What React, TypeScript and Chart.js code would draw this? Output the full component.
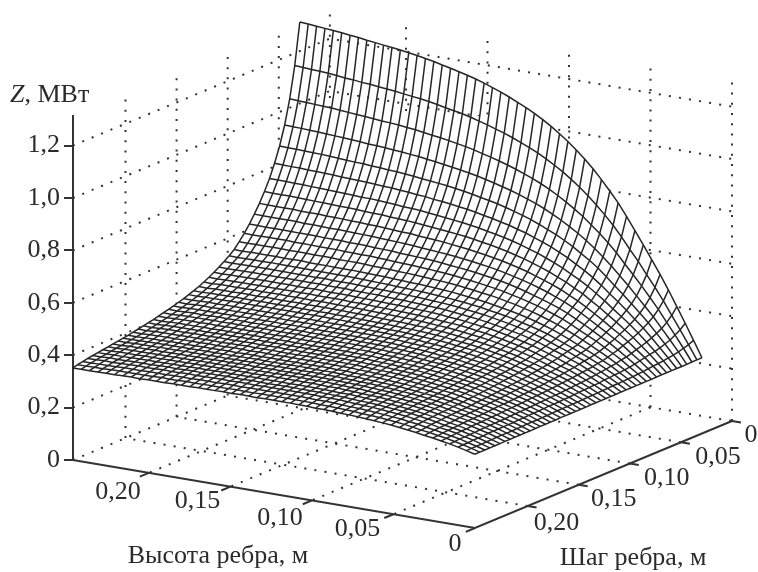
import { useEffect, useRef } from "react";
import { Chart, registerables } from "chart.js";

Chart.register(...registerables);

const heightStart = 0;
const heightCell = 0.00514;
const stepStart = 0.0294;
const stepCell = 0.00494;
const heightMax = 0.2467;
const stepMax = 0.2515;
const wallTop = 1.31;

const heightTicks = [0, 0.05, 0.1, 0.15, 0.2];
const stepTicks = [0, 0.05, 0.1, 0.15, 0.2];
const zTicks = [0, 0.2, 0.4, 0.6, 0.8, 1.0, 1.2];

// Z, thousandths of a MW: one row per fin height, one column per fin pitch
const surfaceZ = [
[289,289,289,288,288,288,288,288,288,288,287,287,287,287,287,287,287,286,286,286,286,286,286,285,285,285,285,285,285,284,284,284,284,284,283,283,283,283,283,283,282,282,282,282,282,282],
[350,342,336,330,326,323,320,318,316,314,311,310,308,307,306,305,305,303,303,302,301,301,300,299,299,298,298,298,297,296,296,295,295,295,294,294,293,293,293,293,292,292,291,291,291,290],
[410,393,381,370,363,356,351,347,343,339,334,331,328,326,325,323,322,319,318,317,316,315,314,312,312,311,310,310,309,308,307,307,306,306,304,304,304,303,303,303,301,301,301,299,299,298],
[468,443,424,409,398,389,381,374,368,362,356,353,348,345,342,339,337,334,332,330,329,327,326,324,323,322,321,320,319,318,317,316,316,315,313,313,312,312,311,311,309,309,308,308,306,305],
[526,493,468,448,433,421,410,401,393,386,378,372,366,361,358,354,351,349,346,344,342,340,338,336,335,333,332,331,330,328,327,326,325,324,322,322,321,320,320,319,317,317,316,314,313,311],
[580,539,508,483,465,449,437,425,416,406,398,390,383,377,373,370,366,362,359,356,353,351,349,346,344,343,341,340,338,336,335,334,333,332,330,329,328,327,327,326,324,323,322,320,318,317],
[631,582,547,517,495,478,462,449,436,426,416,408,399,392,387,382,378,373,369,366,363,360,358,356,354,352,350,349,347,345,343,342,341,339,337,336,335,334,333,331,329,328,327,326,324,321],
[682,627,584,551,525,505,486,471,458,445,434,424,415,406,400,396,391,385,381,377,374,371,368,365,362,360,358,356,354,352,350,349,347,346,343,342,341,340,339,338,336,335,334,331,328,327],
[731,667,620,583,553,530,511,494,478,464,452,440,430,420,413,407,402,397,392,388,384,381,378,374,371,369,367,364,362,360,358,356,354,353,350,349,348,346,345,344,342,341,339,337,334,331],
[780,710,657,615,582,557,534,514,498,483,468,456,444,434,426,419,413,408,403,398,393,390,386,382,380,377,374,372,369,367,365,363,361,359,356,355,354,352,351,349,347,346,344,341,339,335],
[826,749,690,644,610,581,556,535,516,500,485,471,458,447,438,431,424,418,412,407,402,398,395,390,387,384,381,379,376,373,371,369,367,365,362,361,359,357,356,354,352,351,349,346,343,339],
[866,783,720,671,633,602,575,552,532,515,498,483,469,457,448,440,433,426,420,415,409,405,401,397,393,390,387,384,381,378,376,374,371,369,366,365,363,361,360,358,356,354,352,349,346,342],
[904,815,747,696,654,621,592,569,548,528,510,494,480,467,457,449,442,434,427,421,416,411,407,402,399,395,392,389,386,383,380,378,375,373,370,368,367,365,363,361,359,357,355,352,349,345],
[940,845,774,718,675,640,609,583,561,541,521,505,490,476,465,457,448,441,434,428,422,417,413,408,404,400,397,394,391,387,384,382,379,377,374,372,370,368,366,364,362,360,358,355,351,347],
[972,872,797,738,693,656,624,597,573,552,531,514,498,484,473,464,455,448,440,434,428,422,418,413,409,405,401,398,395,391,388,385,383,380,377,375,373,371,369,367,365,363,361,357,353,349],
[1001,897,818,757,710,671,637,609,584,562,541,523,507,491,480,470,461,454,446,439,433,427,422,417,413,409,405,402,398,394,392,389,386,383,380,378,376,374,372,370,367,365,363,359,356,351],
[1028,920,838,774,724,684,650,620,595,571,550,530,513,497,486,476,467,458,450,443,436,430,425,420,416,411,408,404,401,398,395,392,389,386,382,380,378,375,373,371,369,366,364,360,357,352],
[1052,940,856,790,738,696,660,631,604,579,558,538,520,503,491,482,472,463,455,447,440,434,429,424,419,415,411,407,404,400,397,394,391,388,384,382,380,378,375,373,371,368,366,362,358,354],
[1075,959,872,804,751,708,671,639,612,587,565,544,526,509,497,486,476,467,459,451,444,438,433,427,423,418,414,410,406,402,399,396,393,390,387,384,382,380,378,375,373,370,368,364,360,355],
[1095,976,886,816,762,717,680,648,620,594,571,549,530,513,501,490,480,471,462,454,447,441,435,429,425,420,416,412,408,404,401,398,394,391,388,385,383,381,378,376,373,371,369,365,360,355],
[1114,991,899,828,772,727,688,655,626,600,576,554,535,517,505,494,483,473,464,456,449,443,437,432,427,422,418,414,410,406,403,400,396,393,390,387,385,382,380,378,374,372,369,365,362,357],
[1130,1005,911,838,781,734,695,662,632,605,581,559,539,521,508,497,487,477,467,459,452,445,439,434,429,424,420,415,411,407,404,400,397,394,390,388,385,383,381,378,375,373,370,366,362,357],
[1145,1018,922,847,790,742,701,667,637,610,585,563,543,525,511,500,489,479,469,461,453,447,441,436,431,426,422,417,413,409,406,402,399,396,392,389,387,384,382,379,376,373,371,367,363,358],
[1160,1030,932,856,797,748,708,673,642,614,589,567,546,528,514,502,491,481,471,463,455,448,442,437,432,427,423,418,414,410,406,403,399,396,392,390,387,385,382,380,376,373,371,367,363,358],
[1173,1040,941,864,803,755,713,678,646,618,592,570,549,530,516,504,493,482,473,464,456,449,443,438,433,428,423,419,415,410,407,403,400,396,393,390,388,385,382,380,376,374,371,367,363,358],
[1185,1051,949,872,810,761,718,682,650,621,596,572,551,532,518,506,494,484,474,465,457,450,444,439,434,428,424,420,415,411,407,404,400,397,393,390,388,385,383,380,376,374,371,367,363,358],
[1197,1060,958,878,816,765,722,686,654,624,599,575,553,534,520,507,496,485,475,466,458,451,445,440,434,429,425,420,416,411,408,404,400,397,393,391,388,385,383,380,376,373,371,367,363,357],
[1207,1069,965,884,821,770,726,689,657,627,601,577,555,535,521,509,497,486,476,467,459,452,446,440,435,429,425,420,416,411,408,404,401,397,393,391,388,385,383,380,376,373,371,367,362,358],
[1216,1077,971,889,826,774,730,692,659,629,603,579,557,537,522,510,498,487,477,468,460,452,446,441,435,430,425,421,416,411,408,404,401,397,393,391,388,385,382,380,376,373,370,367,362,358],
[1224,1083,977,894,830,777,733,695,661,632,605,580,558,538,524,511,500,488,478,469,461,454,447,441,435,430,425,421,416,411,408,404,400,397,393,390,388,385,382,379,377,374,371,366,363,357],
[1232,1089,983,899,834,782,737,698,665,634,606,582,560,540,525,512,500,489,479,470,461,454,448,441,436,430,425,421,416,411,408,404,400,397,393,390,387,385,382,379,376,373,371,367,362,358],
[1239,1096,987,903,837,784,739,701,666,636,609,584,561,541,526,513,501,490,479,470,462,454,448,441,436,430,425,421,416,411,408,404,400,396,393,390,387,384,381,379,376,373,370,367,362,357],
[1247,1102,992,908,841,788,741,703,668,638,610,585,562,542,527,514,501,491,481,471,463,455,449,442,437,431,426,422,417,412,408,405,401,397,393,391,388,385,382,379,376,374,371,366,362,357],
[1253,1107,997,911,844,790,744,704,670,639,611,587,564,543,528,515,503,491,481,471,463,455,449,442,437,431,426,421,417,412,408,404,401,397,393,390,387,385,382,379,376,373,370,366,362,357],
[1259,1111,1000,915,847,793,746,707,672,641,613,587,565,544,529,515,503,491,481,472,463,455,449,442,436,431,426,421,416,412,408,404,400,396,393,390,387,384,381,378,376,373,370,366,361,356],
[1264,1115,1004,917,849,795,748,708,673,642,614,588,565,544,529,515,503,492,481,471,463,455,449,442,436,430,426,421,416,412,408,405,401,397,392,389,386,384,381,378,375,372,369,365,362,356],
[1269,1120,1007,920,852,797,750,709,675,643,614,588,565,544,529,517,504,493,482,472,464,456,449,443,437,431,426,422,417,412,408,404,400,397,393,390,387,384,381,378,375,373,370,365,361,356],
[1273,1123,1009,922,853,799,750,711,675,644,616,590,567,545,530,516,504,492,482,472,463,456,449,442,436,431,426,421,416,411,408,404,400,396,392,389,386,383,381,378,375,372,369,365,360,355],
[1277,1126,1012,924,856,800,752,712,677,645,616,590,567,545,530,516,504,492,482,472,463,455,449,442,436,430,425,421,416,411,407,403,399,395,392,389,386,383,380,377,374,371,368,364,361,355],
[1281,1130,1015,927,857,802,753,713,678,645,616,590,567,545,530,516,504,493,482,473,464,456,449,442,437,431,426,421,416,411,408,404,400,396,392,389,386,383,380,377,374,372,369,364,360,355],
[1285,1132,1017,929,859,803,755,714,678,646,618,591,568,547,531,517,505,493,482,472,464,456,449,442,436,430,426,421,416,411,407,403,399,395,391,388,386,383,380,377,374,371,368,364,359,354],
[1290,1136,1020,931,861,805,756,715,680,647,618,592,568,547,531,517,504,493,482,472,463,455,449,442,436,430,425,420,415,410,406,403,399,395,391,388,385,382,379,376,373,370,367,363,359,355],
[1293,1138,1023,933,863,806,757,716,680,647,618,591,568,546,531,517,504,493,482,473,464,456,449,442,436,430,426,421,416,411,407,403,399,395,391,388,385,382,379,376,373,370,368,363,359,354],
[1297,1142,1026,935,865,808,758,717,680,649,619,593,569,547,532,518,505,493,482,472,464,456,449,442,436,430,425,420,415,410,406,402,398,394,391,388,385,382,379,376,373,370,367,363,359,353],
[1300,1145,1027,937,866,808,760,718,682,649,619,593,569,547,531,517,505,493,482,472,463,455,448,441,435,429,424,420,415,410,406,402,398,394,390,387,384,381,378,375,372,369,366,362,358,353],
[1303,1147,1029,938,867,810,760,719,682,649,619,593,569,547,531,517,504,492,481,472,463,455,448,442,436,430,425,420,415,410,406,402,398,394,390,387,384,381,378,375,371,368,365,361,357,352],
[1306,1149,1031,940,868,810,761,719,682,649,619,592,569,547,531,517,504,493,482,472,463,455,448,441,435,429,424,419,414,409,405,401,397,393,389,386,384,381,378,375,372,369,366,361,357,352],
[1309,1151,1032,941,869,811,762,719,682,649,620,592,568,546,530,516,503,491,480,470,461,453,446,439,433,427,422,417,412,407,403,399,395,391,388,385,382,379,376,373,370,367,364,360,356,352],
[1311,1153,1034,942,870,812,762,720,683,650,620,593,569,547,531,517,504,492,481,471,462,454,447,440,434,428,423,418,413,408,404,400,396,392,388,385,382,379,376,373,370,367,364,360,356,351],
];

const heights = surfaceZ.map((_, i) => heightStart + heightCell * i);
const steps = surfaceZ[0].map((_, j) => stepStart + stepCell * j);

const ink = "#2b2b2b";
const serif = '"Liberation Serif", "Times New Roman", serif';

// Oblique view: screen x and the z-axis value at the same screen height
const pt = (h: number, s: number, z: number) => ({
  x: 732 - 1630 * h - 1022 * s,
  y: z + (39 + 275.6 * h - 425.4 * s) / 262,
});

const line = (points: { x: number; y: number }[], extra: object = {}) => ({
  type: "scatter" as const,
  data: points,
  showLine: true,
  pointRadius: 0,
  tension: 0,
  clip: false,
  fill: false,
  borderColor: "#262626",
  borderWidth: 1.5,
  ...extra,
});

const dotted = { borderDash: [2, 8.2], borderWidth: 2, borderColor: "#333", order: 5 };

function buildDatasets() {
  const sets: object[] = [];
  for (const z of zTicks) {
    sets.push(line([pt(heightMax, stepMax, z), pt(heightMax, 0, z), pt(0, 0, z)], dotted));
  }
  for (const s of stepTicks) {
    sets.push(line([pt(heightMax, s, 0), pt(heightMax, s, wallTop)], dotted));
    if (s > 0) sets.push(line([pt(0, s, 0), pt(heightMax, s, 0)], dotted));
  }
  for (const h of heightTicks) {
    sets.push(line([pt(h, 0, 0), pt(h, 0, wallTop)], dotted));
    if (h > 0) sets.push(line([pt(h, 0, 0), pt(h, stepMax, 0)], dotted));
  }

  const n = heights.length - 1;
  const m = steps.length - 1;
  const at = (i: number, j: number) => pt(heights[i], steps[j], surfaceZ[i][j] / 1000);
  const outline = [
    ...steps.map((_, j) => at(n, j)),
    ...heights.map((_, i) => at(n - i, m)),
    ...steps.map((_, j) => at(0, m - j)),
    ...heights.map((_, i) => at(i, 0)),
  ];
  sets.push(line(outline, { order: 4, fill: "shape", backgroundColor: "#fff", borderWidth: 0 }));

  heights.forEach((_, i) => sets.push(line(steps.map((__, j) => at(i, j)), { order: 3 })));
  steps.forEach((_, j) => sets.push(line(heights.map((__, i) => at(i, j)), { order: 3 })));

  const axis = { borderColor: "#333", borderWidth: 2, order: 1 };
  sets.push(line([pt(heightMax, stepMax, 0), pt(0, stepMax, 0), pt(0, 0, 0)], axis));
  for (const h of heightTicks) sets.push(line([pt(h, stepMax, 0), pt(h, stepMax + 0.009, 0)], axis));
  for (const s of stepTicks) sets.push(line([pt(0, s, 0), pt(-0.0055, s, 0)], axis));
  return sets;
}

const comma = (v: number) => (v === 0 ? "0" : v.toFixed(2).replace(".", ","));
const heightLabelShift = [[-20, 16], [-36, 15], [-32, 18], [-33, 15], [-31, 19]];
const stepLabelShift = [[19, 14], [37, 15], [37, 14.5], [35, 14], [29, 17]];

const labelsPlugin = {
  id: "obliqueLabels",
  afterDraw(chart: Chart) {
    const { ctx, scales } = chart;
    const px = (p: { x: number; y: number }) => [
      scales.x.getPixelForValue(p.x),
      scales.y.getPixelForValue(p.y),
    ];
    ctx.save();
    ctx.fillStyle = ink;
    ctx.textBaseline = "middle";
    ctx.textAlign = "center";
    ctx.font = `26px ${serif}`;
    heightTicks.forEach((h, k) => {
      const [x, y] = px(pt(h, stepMax, 0));
      ctx.fillText(comma(h), x + heightLabelShift[k][0], y + heightLabelShift[k][1]);
    });
    stepTicks.forEach((s, k) => {
      const [x, y] = px(pt(0, s, 0));
      ctx.fillText(comma(s), x + stepLabelShift[k][0], y + stepLabelShift[k][1]);
    });
    ctx.fillText("Высота ребра, м", 218, 556);
    ctx.fillText("Шаг ребра, м", 633, 558);
    ctx.textAlign = "left";
    ctx.textBaseline = "alphabetic";
    ctx.font = `italic 26px ${serif}`;
    ctx.fillText("Z", 10, 102);
    const zw = ctx.measureText("Z").width;
    ctx.font = `26px ${serif}`;
    ctx.fillText(", МВт", 10 + zw, 102);
    ctx.restore();
  },
};

export default function App() {
  const ref = useRef<HTMLCanvasElement>(null);
  useEffect(() => {
    const chart = new Chart(ref.current!, {
      type: "scatter",
      data: { datasets: buildDatasets() as never[] },
      plugins: [labelsPlugin],
      options: {
        animation: false,
        responsive: false,
        layout: { padding: { top: 116, bottom: 112, left: 0, right: 0 } },
        plugins: {
          legend: { display: false },
          tooltip: { enabled: false },
          filler: { drawTime: "beforeDatasetDraw" },
        } as never,
        scales: {
          x: { type: "linear", display: false, min: 73, max: 758 },
          y: {
            type: "linear",
            min: 0,
            max: 1.313,
            afterFit: (scale: { width: number }) => {
              scale.width = 73;
            },
            afterBuildTicks: (scale: { ticks: { value: number }[] }) => {
              scale.ticks = zTicks.map((value) => ({ value }));
            },
            border: { color: "#333", width: 2 },
            grid: { drawOnChartArea: false, drawTicks: true, tickLength: 9, color: "#333", lineWidth: 2 },
            ticks: {
              padding: 4,
              color: ink,
              font: { family: serif, size: 26 },
              callback: (v: number | string) =>
                Number(v) === 0 ? "0" : Number(v).toFixed(1).replace(".", ","),
            },
          },
        },
      },
    });
    return () => chart.destroy();
  }, []);
  return (
    <div style={{ position: "absolute", left: 0, top: 0, width: 758, height: 572, background: "#fff" }}>
      <canvas ref={ref} width={758} height={572} style={{ display: "block" }} />
    </div>
  );
}
